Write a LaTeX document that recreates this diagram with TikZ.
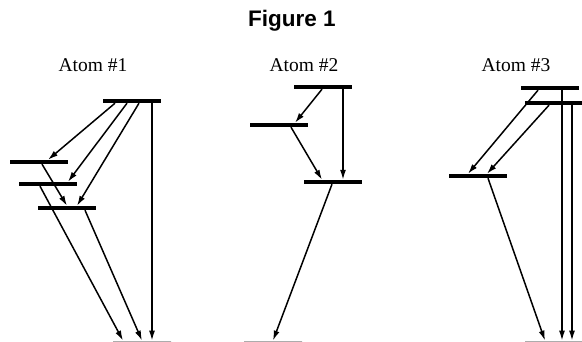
\documentclass[tikz,border=0pt]{standalone}
\usepackage{fontspec}
\setmainfont{Liberation Serif}
\newfontfamily\headfont{Liberation Sans}
\usepackage{tikz}
\usetikzlibrary{arrows.meta}

\begin{document}
\begin{tikzpicture}[x=1pt,y=-1pt,
    bar/.style={fill=black,inner sep=0pt,minimum width=58pt,minimum height=4pt},
    groundline/.style={draw=gray,inner sep=0pt,minimum width=58pt,minimum height=0pt,line width=0.8pt},
    jump/.style={line width=1.5pt,-{Latex[length=10pt,width=6pt]}},
    every node/.style={font=\fontsize{19.5}{22}\selectfont}]
  \useasboundingbox (0,0) rectangle (582,342);
  % titles
  \node[anchor=base,font=\headfont\bfseries\fontsize{22.5}{26}\selectfont] (title) at (292,27) {Figure 1};
  \node[anchor=base] (lab1) at (93,72) {Atom \#1};
  \node[anchor=base] (lab2) at (304,72) {Atom \#2};
  \node[anchor=base] (lab3) at (516,72) {Atom \#3};
  % atom 1: levels
  \node[bar] (a1top) at (132,101) {};
  \node[bar] (a1A) at (39,162) {};
  \node[bar] (a1B) at (48,184) {};
  \node[bar] (a1C) at (67,208) {};
  \node[groundline] (a1g) at (142,341) {};
  % atom 1: transitions
  \draw[jump] ([xshift=-17pt]a1top.south) -- ([xshift=9pt]a1A.north);
  \draw[jump] ([xshift=-5pt]a1top.south) -- ([xshift=20pt]a1B.north);
  \draw[jump] ([xshift=7pt]a1top.south) -- ([xshift=10pt]a1C.north);
  \draw[jump] ([xshift=20pt]a1top.south) -- ([xshift=10pt]a1g.north);
  \draw[jump] ([xshift=3pt]a1A.south) -- (a1C.north);
  \draw[jump] ([xshift=-8pt]a1B.south) -- ([xshift=-19pt]a1g.north);
  \draw[jump] ([xshift=18pt]a1C.south) -- (a1g.north);
  % atom 2: levels
  \node[bar] (a2top) at (323,87) {};
  \node[bar] (a2mid) at (279,125) {};
  \node[bar] (a2low) at (333,182) {};
  \node[groundline] (a2g) at (273,341) {};
  % atom 2: transitions
  \draw[jump] ([xshift=-1pt]a2top.south) -- ([xshift=16pt]a2mid.north);
  \draw[jump] ([xshift=20pt]a2top.south) -- ([xshift=10pt]a2low.north);
  \draw[jump] ([xshift=12pt]a2mid.south) -- ([xshift=-11pt]a2low.north);
  \draw[jump] ([xshift=-1pt]a2low.south) -- (a2g.north);
  % atom 3: levels
  \node[bar] (a3topA) at (550,88) {};
  \node[bar] (a3topB) at (554,103) {};
  \node[bar] (a3lev) at (478,176) {};
  \node[groundline] (a3g) at (554,341) {};
  % atom 3: transitions
  \draw[jump] ([xshift=-12pt]a3topA.south) -- ([xshift=-10pt]a3lev.north);
  \draw[jump] ([xshift=-5pt]a3topB.south) -- ([xshift=9pt]a3lev.north);
  \draw[jump] ([xshift=12pt]a3topA.south) -- ([xshift=8pt]a3g.north);
  \draw[jump] ([xshift=18pt]a3topB.south) -- ([xshift=18pt]a3g.north);
  \draw[jump] ([xshift=10pt]a3lev.south) -- ([xshift=-9pt]a3g.north);
\end{tikzpicture}
\end{document}
